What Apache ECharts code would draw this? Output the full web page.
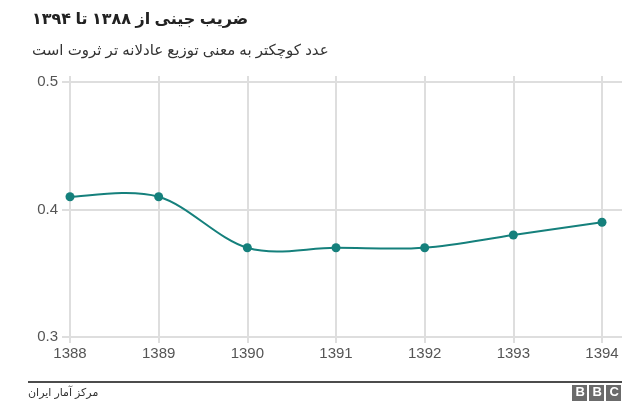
<!DOCTYPE html>
<html>
<head>
<meta charset="utf-8">
<title>Gini</title>
<script src="https://cdn.jsdelivr.net/npm/echarts@6/dist/echarts.min.js"></script>
<style>
  html, body { margin: 0; padding: 0; background: #fff; }
  #main { width: 640px; height: 416px; }
</style>
</head>
<body>
<div id="main"></div>
<script type="text/javascript">
var years = ['1388', '1389', '1390', '1391', '1392', '1393', '1394'];
var gini = [0.41, 0.41, 0.37, 0.37, 0.37, 0.38, 0.39];
var yTicks = [0.3, 0.4, 0.5];

var titleText = 'ضریب جینی از ۱۳۸۸ تا ۱۳۹۴';
var subText = 'عدد کوچکتر به معنی توزیع عادلانه تر ثروت است';
var sourceText = 'مرکز آمار ایران';

var gridCol = '#dedede';
var teal = '#15807c';
var font = '"Liberation Sans", Arial, "DejaVu Sans", sans-serif';

var chart = echarts.init(document.getElementById('main'));

// small grey BBC blocks
var bbc = [];
['B', 'B', 'C'].forEach(function (ch, i) {
  bbc.push({
    type: 'rect', left: 572 + i * 17, top: 385,
    shape: { width: 15, height: 16 },
    style: { fill: '#6b6b6b' }
  });
  bbc.push({
    type: 'text', left: 575.5 + i * 17, top: 386,
    style: { text: ch, fill: '#fff', font: 'bold 13px ' + font }
  });
});

// catmull-rom curve through the points, like the original chart's spline
function renderCurve(params, api) {
  if (params.dataIndex !== 0) return;
  var pts = gini.map(function (v, i) { return api.coord([i, v]); });
  var n = pts.length;
  var path = 'M' + pts[0][0] + ',' + pts[0][1];
  for (var i = 0; i < n - 1; i++) {
    var p0 = pts[Math.max(i - 1, 0)], p1 = pts[i], p2 = pts[i + 1], p3 = pts[Math.min(i + 2, n - 1)];
    var c1x = p1[0] + (p2[0] - p0[0]) / 6, c1y = p1[1] + (p2[1] - p0[1]) / 6;
    var c2x = p2[0] - (p3[0] - p1[0]) / 6, c2y = p2[1] - (p3[1] - p1[1]) / 6;
    path += ' C' + c1x + ',' + c1y + ' ' + c2x + ',' + c2y + ' ' + p2[0] + ',' + p2[1];
  }
  return {
    type: 'path',
    shape: { pathData: path },
    style: { fill: null, stroke: teal, lineWidth: 2 }
  };
}

var option = {
  animation: false,
  textStyle: { fontFamily: font },
  title: [
    {
      text: titleText, left: 27, top: 7,
      textStyle: { fontSize: 16, fontWeight: 'bold', color: '#222', fontFamily: font }
    },
    {
      text: subText, left: 27, top: 38,
      textStyle: { fontSize: 15, fontWeight: 'normal', color: '#333', fontFamily: font }
    }
  ],
  grid: { left: 70, right: 38, top: 82, bottom: 79 },
  xAxis: [
    {
      type: 'category', data: years, boundaryGap: false,
      axisLine: { lineStyle: { color: gridCol, width: 2 } },
      axisTick: { length: 6, lineStyle: { color: gridCol, width: 2 } },
      axisLabel: { color: '#555', fontSize: 15, margin: 9 },
      splitLine: { show: true, lineStyle: { color: gridCol, width: 2 } }
    },
    {
      type: 'category', data: years, boundaryGap: false, position: 'top',
      axisLine: { show: false },
      axisTick: { length: 6, lineStyle: { color: gridCol, width: 2 } },
      axisLabel: { show: false }
    }
  ],
  yAxis: [
    {
      type: 'value', min: yTicks[0], max: yTicks[yTicks.length - 1], interval: 0.1,
      axisLine: { show: false },
      axisTick: { show: true, length: 8, lineStyle: { color: gridCol, width: 2 } },
      axisLabel: { color: '#555', fontSize: 15, margin: 12, formatter: function (v) { return v.toFixed(1); } },
      splitLine: { lineStyle: { color: gridCol, width: 2 } }
    },
    {
      type: 'value', position: 'right', min: yTicks[0], max: yTicks[yTicks.length - 1], interval: 0.1,
      axisLine: { show: false },
      axisTick: { show: true, length: 20, lineStyle: { color: gridCol, width: 2 } },
      axisLabel: { show: false },
      splitLine: { show: false }
    }
  ],
  series: [
    {
      type: 'custom', data: gini, renderItem: renderCurve, z: 2, silent: true
    },
    {
      type: 'line', data: gini,
      symbol: 'circle', symbolSize: 9,
      lineStyle: { width: 0 },
      itemStyle: { color: teal }, z: 3
    }
  ],
  graphic: [
    {
      type: 'line', shape: { x1: 28, y1: 382, x2: 622, y2: 382 },
      style: { stroke: '#111', lineWidth: 1.5 }
    },
    {
      type: 'text', left: 28, top: 387,
      style: { text: sourceText, fill: '#333', font: '11px ' + font }
    }
  ].concat(bbc)
};

chart.setOption(option);
</script>
</body>
</html>
